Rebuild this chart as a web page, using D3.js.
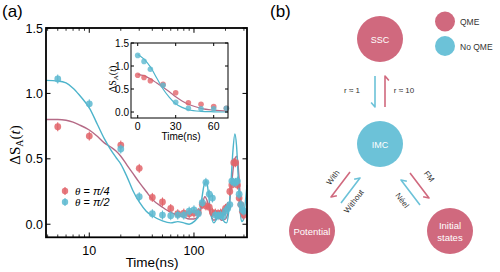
<!DOCTYPE html>
<html><head><meta charset="utf-8">
<script src="https://cdn.jsdelivr.net/npm/d3@7"></script>
<style>body{margin:0;background:#fff}svg{display:block}</style>
</head><body>
<svg id="c" width="500" height="272"></svg>
<script>
// ---------- data ----------
const times = [5,10,20,30,40,50,60,70,80,90,100,110,120,130,140,150,160,170,180,190,200,210,220,230,240,250,260,270,280,290,300];
const redPts = [0.745,0.674,0.605,0.427,0.205,0.17,0.12,0.08,0.085,0.08,0.085,0.09,0.15,0.14,0.13,0.09,0.085,0.08,0.085,0.09,0.12,0.135,0.25,0.3,0.47,0.47,0.3,0.2,0.15,0.1,0.07];
const bluePts = [1.11,0.92,0.575,0.21,0.08,0.07,0.065,0.07,0.07,0.1,0.11,0.08,0.165,0.32,0.23,0.2,0.07,0.065,0.07,0.06,0.1,0.12,0.15,0.33,0.32,0.32,0.33,0.23,0.15,0.11,0.1];
const blueFit = [[3.86,1.10],[5,1.095],[6,1.08],[7,1.04],[8,0.99],[9,0.94],[10,0.89],[12,0.76],[14,0.65],[16,0.57],[18,0.51],[20,0.46],[23,0.36],[26,0.26],[30,0.17],[35,0.1],[40,0.065],[50,0.025],[60,0.01],[70,0.02],[80,0.01],[90,0.0],[100,0.02],[110,0.06],[118,0.18],[125,0.3],[132,0.33],[138,0.22],[145,0.08],[155,0.01],[165,0.04],[178,0.08],[190,0.03],[205,0.01],[215,0.1],[225,0.3],[235,0.55],[246,0.69],[255,0.6],[265,0.35],[275,0.12],[285,0.02],[295,0.03],[305,0.12],[321,0.3]];
const redFit = [[3.86,0.80],[5,0.80],[6,0.795],[7,0.78],[8,0.76],[10,0.72],[12,0.67],[14,0.62],[16,0.59],[18,0.56],[20,0.52],[23,0.45],[26,0.39],[30,0.32],[35,0.25],[40,0.19],[50,0.13],[60,0.09],[70,0.07],[80,0.055],[90,0.04],[100,0.04],[110,0.06],[120,0.15],[127,0.21],[135,0.17],[145,0.07],[155,0.03],[170,0.05],[185,0.03],[200,0.04],[215,0.12],[230,0.33],[245,0.5],[258,0.52],[268,0.38],[280,0.15],[290,0.05],[300,0.05],[321,0.1]];
const insetTimes = [0,5,10,20,30,40,50,60,70];
const insetRed = [0.8,0.75,0.68,0.6,0.42,0.2,0.17,0.12,0.08];
const insetBlue = [1.23,1.1,0.93,0.58,0.21,0.08,0.07,0.07,0.08];
const insetRedFit = [[0,0.82],[5,0.79],[10,0.72],[15,0.63],[20,0.54],[25,0.44],[30,0.33],[35,0.24],[40,0.17],[45,0.12],[50,0.08],[60,0.04],[71,0.02]];
const insetBlueFit = [[0,1.25],[5,1.15],[10,0.98],[15,0.74],[20,0.5],[25,0.32],[30,0.18],[35,0.1],[40,0.05],[50,0.015],[60,0.005],[71,0]];
const yTicks = [0,0.5,1.0,1.5];
const xTicks = [10,100];
const insetXTicks = [0,30,60];
const legendLabels = ["π/4","π/2"];

const RED = "#e2646a", BLUE = "#5cb9d0", RLINE = "#b56a86", BLINE = "#4db4cb";
const PINK = "#d0697e", CYAN = "#6cc2d8";

const svg = d3.select("#c");
const F = "Liberation Sans, Arial, sans-serif";

// ---------- main panel ----------
const x = d3.scaleLog().domain([3.86,321]).range([46,247]);
const y = d3.scaleLinear().domain([-0.1,1.5]).range([237.3,28]);

const line = d3.line().x(d=>x(d[0])).y(d=>y(d[1])).curve(d3.curveMonotoneX);
svg.append("path").attr("d",line(redFit)).attr("fill","none").attr("stroke",RLINE).attr("stroke-width",1.4);
svg.append("path").attr("d",line(blueFit)).attr("fill","none").attr("stroke",BLINE).attr("stroke-width",1.4);

function pts(g, xs, vals, col, sx, sy){
  xs.forEach((t,i)=>{
    const cx=sx(t), cy=sy(vals[i]);
    g.append("line").attr("x1",cx).attr("x2",cx).attr("y1",cy-4.5).attr("y2",cy+4.5).attr("stroke",col).attr("stroke-width",1);
    g.append("circle").attr("cx",cx).attr("cy",cy).attr("r",3.4).attr("fill",col).attr("fill-opacity",0.85);
  });
}
const gp = svg.append("g");
pts(gp, times, redPts, RED, x, y);
pts(gp, times, bluePts, BLUE, x, y);

// frame + ticks
svg.append("rect").attr("x",46).attr("y",28).attr("width",201).attr("height",209.3).attr("fill","none").attr("stroke","#000").attr("stroke-width",1.8);
const minor = [];
[1,10,100].forEach(d=>{for(let k=2;k<=9;k++){const v=k*d; if(v>3.86&&v<321) minor.push(v);} });
minor.forEach(v=>{
  svg.append("line").attr("x1",x(v)).attr("x2",x(v)).attr("y1",237.3).attr("y2",234.5).attr("stroke","#000").attr("stroke-width",0.8);
  svg.append("line").attr("x1",x(v)).attr("x2",x(v)).attr("y1",28).attr("y2",30.8).attr("stroke","#000").attr("stroke-width",0.8);
});
xTicks.forEach(v=>{
  svg.append("line").attr("x1",x(v)).attr("x2",x(v)).attr("y1",237.3).attr("y2",232.5).attr("stroke","#000").attr("stroke-width",1);
  svg.append("line").attr("x1",x(v)).attr("x2",x(v)).attr("y1",28).attr("y2",32.8).attr("stroke","#000").attr("stroke-width",1);
  svg.append("text").attr("x",x(v)).attr("y",255).attr("text-anchor","middle").attr("font-family",F).attr("font-size",12.5).text(v);
});
yTicks.forEach(v=>{
  svg.append("line").attr("x1",46).attr("x2",50.5).attr("y1",y(v)).attr("y2",y(v)).attr("stroke","#000").attr("stroke-width",1);
  svg.append("line").attr("x1",247).attr("x2",242.5).attr("y1",y(v)).attr("y2",y(v)).attr("stroke","#000").attr("stroke-width",1);
  svg.append("text").attr("x",43).attr("y",y(v)+4.5).attr("text-anchor","end").attr("font-family",F).attr("font-size",12.5).text(v.toFixed(1));
});
svg.append("text").attr("x",152).attr("y",267).attr("text-anchor","middle").attr("font-family",F).attr("font-size",13.5).text("Time(ns)");
const yl = svg.append("text").attr("transform","translate(20,145) rotate(-90)").attr("text-anchor","middle").attr("font-family","Liberation Serif, Times New Roman, serif").attr("font-size",15);
yl.append("tspan").text("ΔS");
yl.append("tspan").attr("font-size",10).attr("dy",3).text("A");
yl.append("tspan").attr("dy",-3).text("(");
yl.append("tspan").attr("font-style","italic").text("t");
yl.append("tspan").text(")");
svg.append("text").attr("x",2).attr("y",17).attr("font-family",F).attr("font-size",17).text("(a)");

// legend
[[RED,191],[BLUE,202]].forEach((c,i)=>{
  const g=svg.append("g");
  g.append("line").attr("x1",65).attr("x2",65).attr("y1",c[1]-4).attr("y2",c[1]+4).attr("stroke",c[0]);
  g.append("circle").attr("cx",65).attr("cy",c[1]).attr("r",3.2).attr("fill",c[0]).attr("fill-opacity",0.85);
  const t=g.append("text").attr("x",75).attr("y",c[1]+4).attr("font-family",F).attr("font-size",11);
  t.append("tspan").attr("font-style","italic").attr("font-family","Liberation Serif, serif").text("θ");
  t.append("tspan").text(" = ");
  t.append("tspan").attr("font-style","italic").text(legendLabels[i]);
});

// ---------- inset ----------
const xi = d3.scaleLinear().domain([-5.3,71.3]).range([131,228]);
const yi = d3.scaleLinear().domain([-0.13,1.5]).range([118,43]);
svg.append("rect").attr("x",131).attr("y",43).attr("width",97).attr("height",75).attr("fill","#fff");
const li = d3.line().x(d=>xi(d[0])).y(d=>yi(d[1])).curve(d3.curveMonotoneX);
svg.append("path").attr("d",li(insetRedFit)).attr("fill","none").attr("stroke",RLINE).attr("stroke-width",1.2);
svg.append("path").attr("d",li(insetBlueFit)).attr("fill","none").attr("stroke",BLINE).attr("stroke-width",1.2);
const gi = svg.append("g");
insetTimes.forEach((t,i)=>{
  gi.append("circle").attr("cx",xi(t)).attr("cy",yi(insetRed[i])).attr("r",2.8).attr("fill",RED).attr("fill-opacity",0.8);
  gi.append("circle").attr("cx",xi(t)).attr("cy",yi(insetBlue[i])).attr("r",2.8).attr("fill",BLUE).attr("fill-opacity",0.8);
});
svg.append("rect").attr("x",131).attr("y",43).attr("width",97).attr("height",75).attr("fill","none").attr("stroke","#000").attr("stroke-width",1);
yTicks.forEach(v=>{
  svg.append("line").attr("x1",131).attr("x2",134).attr("y1",yi(v)).attr("y2",yi(v)).attr("stroke","#000");
  svg.append("line").attr("x1",228).attr("x2",225).attr("y1",yi(v)).attr("y2",yi(v)).attr("stroke","#000");
  svg.append("text").attr("x",129).attr("y",yi(v)+3.5).attr("text-anchor","end").attr("font-family",F).attr("font-size",10).text(v.toFixed(1));
});
insetXTicks.forEach(v=>{
  svg.append("line").attr("x1",xi(v)).attr("x2",xi(v)).attr("y1",118).attr("y2",115).attr("stroke","#000");
  svg.append("line").attr("x1",xi(v)).attr("x2",xi(v)).attr("y1",43).attr("y2",46).attr("stroke","#000");
  svg.append("text").attr("x",xi(v)).attr("y",130).attr("text-anchor","middle").attr("font-family",F).attr("font-size",10.5).text(v);
});
svg.append("text").attr("x",181).attr("y",140).attr("text-anchor","middle").attr("font-family",F).attr("font-size",10).text("Time(ns)");
const yl2 = svg.append("text").attr("transform","translate(116,79) rotate(-90)").attr("text-anchor","middle").attr("font-family","Liberation Serif, serif").attr("font-size",10);
yl2.append("tspan").text("ΔS");
yl2.append("tspan").attr("font-size",7).attr("dy",2).text("A");
yl2.append("tspan").attr("dy",-2).text("(");
yl2.append("tspan").attr("font-style","italic").text("t");
yl2.append("tspan").text(")");

// ---------- panel (b) ----------
svg.append("text").attr("x",270).attr("y",17).attr("font-family",F).attr("font-size",17).text("(b)");
const nodes = [
  {name:["SSC"], cx:380, cy:39, c:PINK, fs:9},
  {name:["IMC"], cx:380, cy:144, c:CYAN, fs:9},
  {name:["Potential"], cx:312, cy:231, c:PINK, fs:9.5},
  {name:["Initial","states"], cx:450, cy:231, c:PINK, fs:9.5}
];
nodes.forEach(n=>{
  svg.append("circle").attr("cx",n.cx).attr("cy",n.cy).attr("r",23).attr("fill",n.c);
  n.name.forEach((s,i)=>{
    const dy = (i-(n.name.length-1)/2)*12;
    svg.append("text").attr("x",n.cx).attr("y",n.cy+dy+3.5).attr("text-anchor","middle").attr("font-family",F).attr("font-size",n.fs).attr("fill","#fff").text(s);
  });
});
svg.append("circle").attr("cx",445).attr("cy",21.5).attr("r",10).attr("fill",PINK);
svg.append("circle").attr("cx",445).attr("cy",46).attr("r",10).attr("fill",CYAN);
svg.append("text").attr("x",460).attr("y",25).attr("font-family",F).attr("font-size",8.5).attr("fill","#333").text("QME");
svg.append("text").attr("x",460).attr("y",49.5).attr("font-family",F).attr("font-size",8.5).attr("fill","#333").text("No QME");

function harpoon(x1,y1,x2,y2,rot,col){
  const a = Math.atan2(y1-y2,x1-x2) + rot*Math.PI/180;
  const L = 6;
  svg.append("path").attr("d",`M${x1},${y1}L${x2},${y2}L${x2+L*Math.cos(a)},${y2+L*Math.sin(a)}`)
    .attr("fill","none").attr("stroke",col).attr("stroke-width",1.6).attr("stroke-linejoin","round");
}
harpoon(375,76,375,107,-40,CYAN);
harpoon(385,107,385,76,-40,PINK);
harpoon(350,172,331,197,40,PINK);
harpoon(341,203,360,178,40,CYAN);
harpoon(410,173,429,198,-40,PINK);
harpoon(420,205,401,180,-40,CYAN);

function lab(xc,yc,rot,txt){
  svg.append("text").attr("transform",`translate(${xc},${yc}) rotate(${rot})`).attr("text-anchor","middle").attr("font-family",F).attr("font-size",8).attr("fill","#333").text(txt);
}
lab(352,93,0,"r ≈ 1");
lab(404,93,0,"r ≈ 10");
lab(335,179,-53,"With");
lab(356,203,-53,"Without");
lab(427,178,53,"FM");
lab(400,202,53,"Néel");
</script>
</body></html>
